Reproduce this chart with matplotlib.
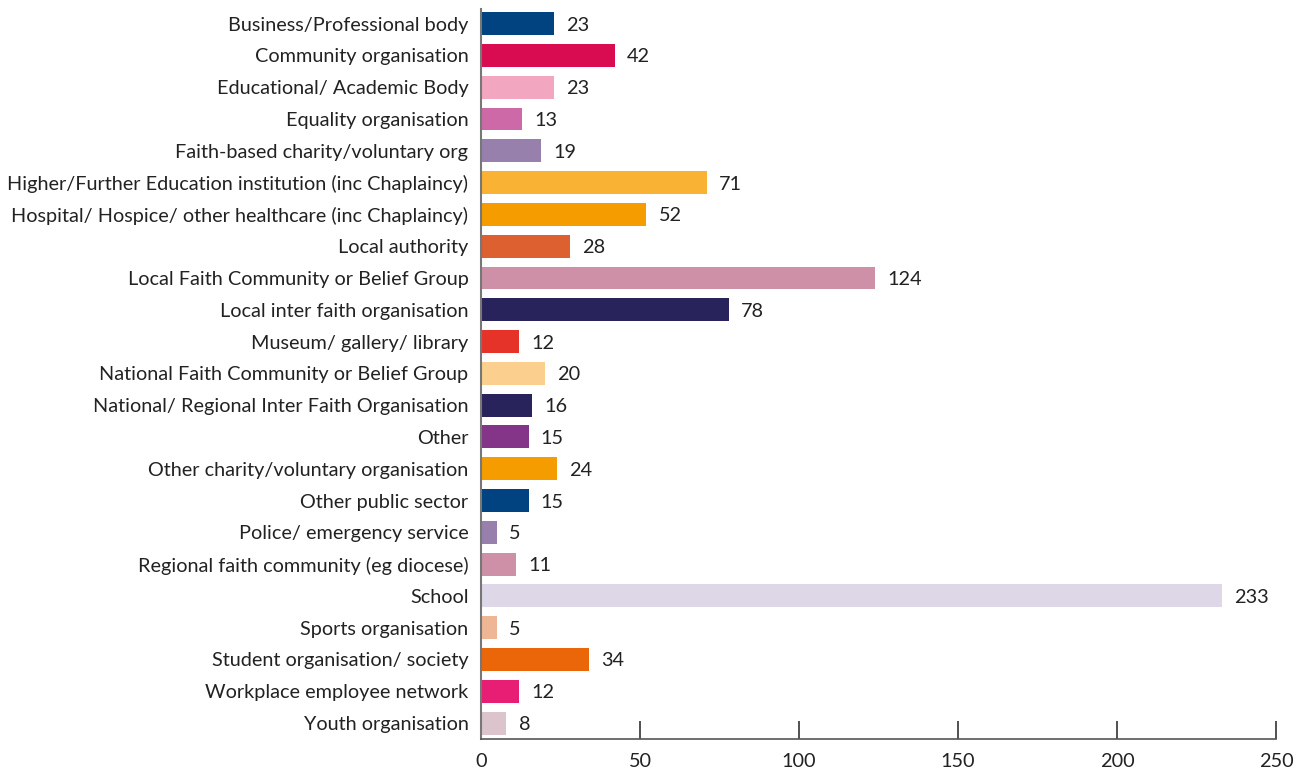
import matplotlib.pyplot as plt

categories = [
    "Business/Professional body",
    "Community organisation",
    "Educational/ Academic Body",
    "Equality organisation",
    "Faith-based charity/voluntary org",
    "Higher/Further Education institution (inc Chaplaincy)",
    "Hospital/ Hospice/ other healthcare (inc Chaplaincy)",
    "Local authority",
    "Local Faith Community or Belief Group",
    "Local inter faith organisation",
    "Museum/ gallery/ library",
    "National Faith Community or Belief Group",
    "National/ Regional Inter Faith Organisation",
    "Other",
    "Other charity/voluntary organisation",
    "Other public sector",
    "Police/ emergency service",
    "Regional faith community (eg diocese)",
    "School",
    "Sports organisation",
    "Student organisation/ society",
    "Workplace employee network",
    "Youth organisation",
]
values = [23, 42, 23, 13, 19, 71, 52, 28, 124, 78, 12, 20, 16, 15, 24, 15, 5, 11, 233, 5, 34, 12, 8]
colors = [
    "#004380", "#d90c52", "#f2a6bf", "#cd69a6", "#9880ad", "#f9b233",
    "#f59c00", "#dc6030", "#ce90a6", "#29235c", "#e6332a", "#fbcf8e",
    "#29235c", "#843588", "#f59c00", "#004380", "#9880ad", "#ce90a6",
    "#ddd7e8", "#efb696", "#ea6608", "#e71e74", "#dbc4cb",
]
x_ticks = [0, 50, 100, 150, 200, 250]

plt.rcParams["font.family"] = ["Lato", "DejaVu Sans"]

fig = plt.figure(figsize=(13.06, 7.73), dpi=100)
ax = fig.add_axes([0.3683, 0.044, 0.6087, 0.944])

y = range(len(categories))
ax.barh(y, values, height=0.72, color=colors)

for i, v in enumerate(values):
    ax.text(v + 3.8, i, str(v), va="center_baseline", ha="left", fontsize=14.3, color="#222222")

ax.set_yticks(list(y))
ax.set_yticklabels(categories, fontsize=14.3, color="#222222")
ax.set_ylim(len(categories) - 0.5, -0.45)
ax.set_xlim(0, 250)
ax.set_xticks(x_ticks)
ax.set_xticklabels([str(t) for t in x_ticks], fontsize=14.3, color="#222222")

ax.tick_params(axis="y", length=0, pad=9)
ax.tick_params(axis="x", direction="in", length=13, width=1.2, color="#333333", pad=10)

for side in ["top", "right"]:
    ax.spines[side].set_visible(False)
ax.spines["left"].set_color("#777777")
ax.spines["left"].set_linewidth(1.5)
ax.spines["bottom"].set_color("#555555")
ax.spines["bottom"].set_linewidth(1.2)

plt.savefig("out.png", dpi=100)
plt.close()
